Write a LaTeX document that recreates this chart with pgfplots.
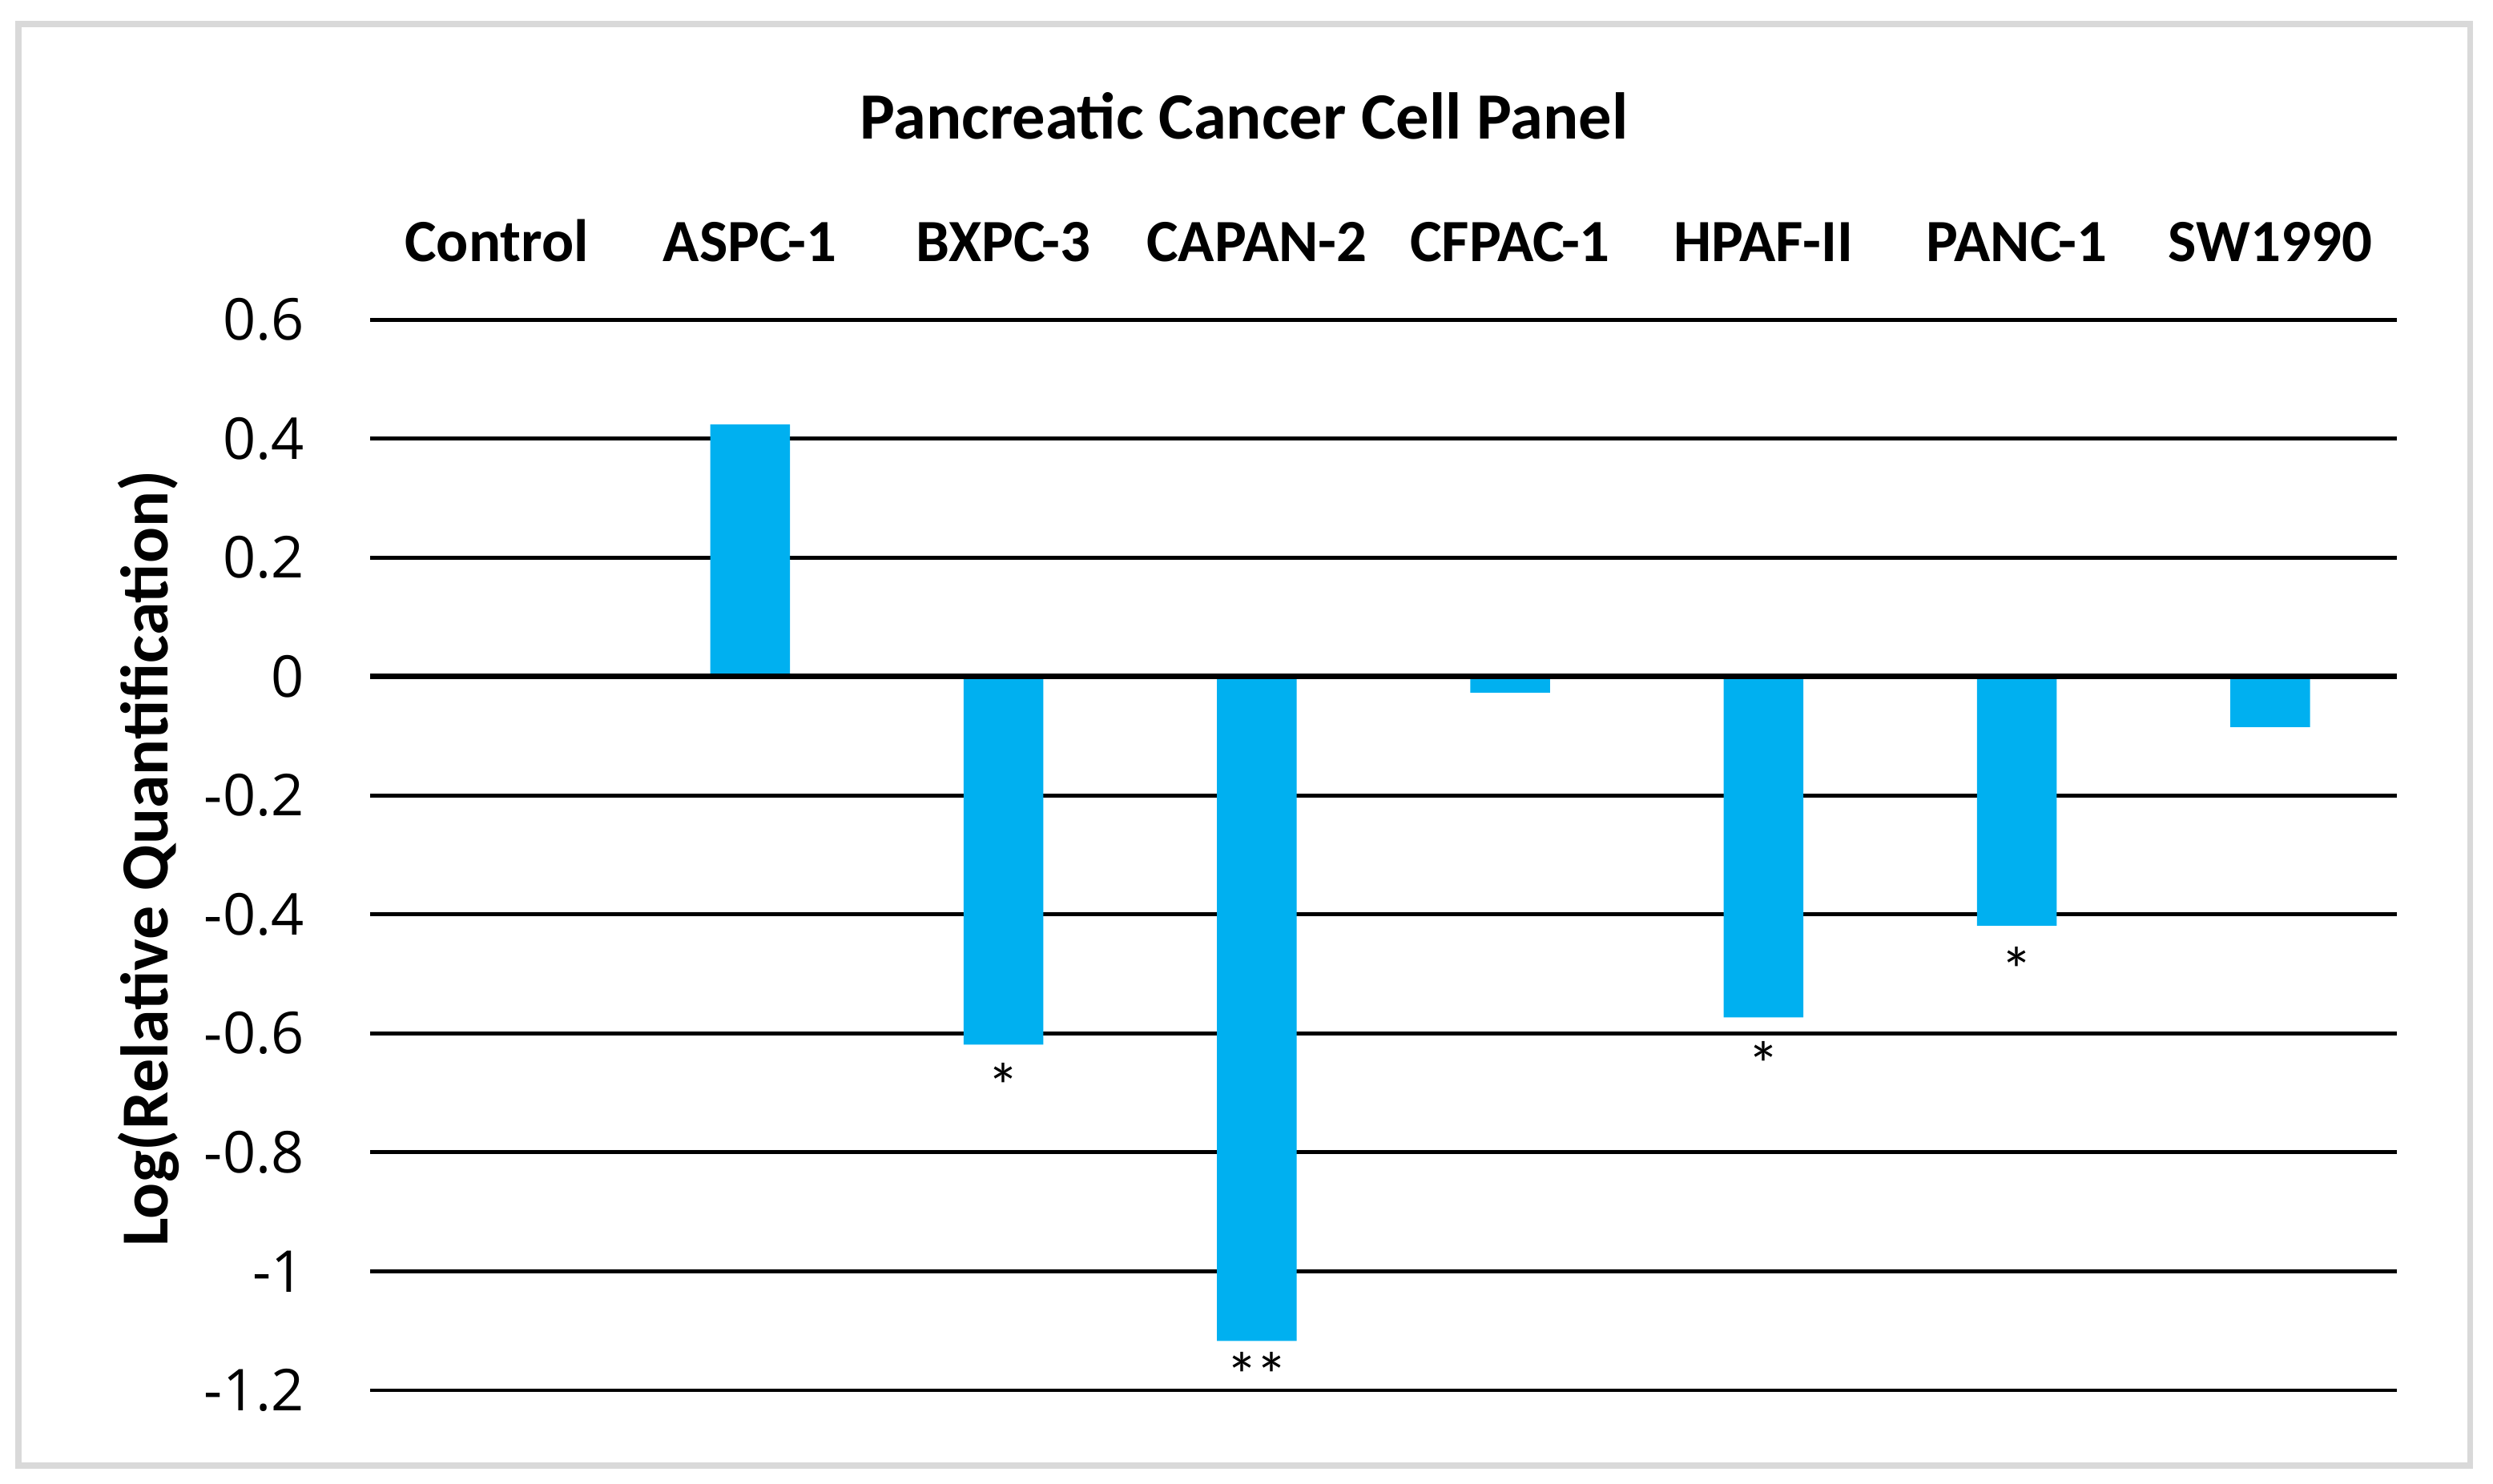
\documentclass[border=0pt]{standalone}
\usepackage{fontspec}
\setmainfont{Carlito}
\newfontfamily\tickfont{Open Sans}
\usepackage{pgfplots}
\pgfplotsset{compat=1.18}
\definecolor{barblue}{HTML}{00B0F0}
\definecolor{framegray}{HTML}{D9D9D9}

\begin{document}
\begin{tikzpicture}
% page size and outer frame
\useasboundingbox (0,0) rectangle (15.64,9.3126);
\draw[framegray, line width=0.38mm] (0.116,0.116) rectangle (15.497,9.162);

\begin{axis}[
    at={(2.322cm,0.588cm)},
    anchor=south west,
    scale only axis,
    width=12.715cm,
    height=6.719cm,
    xmin=-0.5, xmax=7.5,
    ymin=-1.2, ymax=0.6,
    ytick={-1.2,-1,-0.8,-0.6,-0.4,-0.2,0,0.2,0.4,0.6},
    xtick={0,...,7},
    xticklabels={Control,ASPC-1,BXPC-3,CAPAN-2,CFPAC-1,HPAF-II,PANC-1,SW1990},
    xticklabel pos=right,
    xticklabel style={font=\fontsize{10.7}{12}\selectfont\bfseries, yshift=2.4mm},
    yticklabel style={font=\tickfont\fontsize{10.3}{12}\selectfont, xshift=-2.9mm},
    /pgf/number format/assume math mode=true,
    ymajorgrids,
    major grid style={black, line width=0.25mm},
    axis line style={draw=none},
    major tick style={draw=none},
    clip=false,
]
\addplot[ybar, bar width=5mm, fill=barblue, draw=none] coordinates {
    (0,0) (1,0.424) (2,-0.619) (3,-1.117) (4,-0.027) (5,-0.573) (6,-0.419) (7,-0.085)
};
% emphasised zero line
\draw[black, line width=0.35mm] (axis cs:-0.5,0) -- (axis cs:7.5,0);
% significance marks
\node[font=\fontsize{11.5}{13}\selectfont] at (axis cs:2,-0.688) {*};
\node[font=\fontsize{11.5}{13}\selectfont] at (axis cs:3,-1.174) {*\kern-0.5pt*};
\node[font=\fontsize{11.5}{13}\selectfont] at (axis cs:5,-0.652) {*};
\node[font=\fontsize{11.5}{13}\selectfont] at (axis cs:6,-0.493) {*};
\end{axis}

\node[font=\fontsize{11.8}{14}\selectfont\bfseries] at (7.805,8.584) {Pancreatic Cancer Cell Panel};
\node[font=\fontsize{12}{14}\selectfont\bfseries, rotate=90] at (0.93,3.925) {Log(Relative Quantification)};
\end{tikzpicture}
\end{document}
